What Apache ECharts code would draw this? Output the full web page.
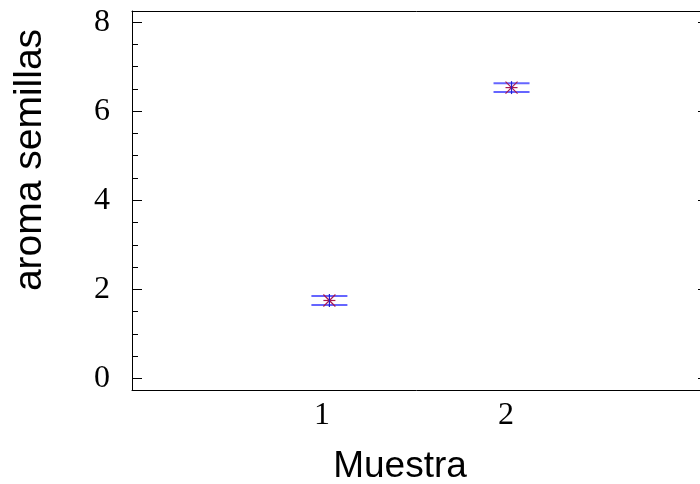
<!DOCTYPE html>
<html>
<head>
<meta charset="utf-8">
<script src="https://cdn.jsdelivr.net/npm/echarts@6/dist/echarts.min.js"></script>
<style>
  html, body { margin: 0; padding: 0; background: #fff; }
  #chart { width: 700px; height: 484px; }
</style>
</head>
<body>
<div id="chart"></div>
<script>
// Sample positions on the x axis and the mean with its interval bounds
const samplePos = [1.04, 2.03];
const means = [1.75, 6.53];
const lower = [1.65, 6.43];
const upper = [1.85, 6.63];

// Tick labels
const xTicks = [1, 2];
const yMajor = [0, 2, 4, 6, 8];
const yMinor = [0.5, 1, 1.5, 2.5, 3, 3.5, 4.5, 5, 5.5, 6.5, 7, 7.5];

const xTitle = 'Muestra';
const yTitle = 'aroma semillas';

const Y_MIN = -0.26, Y_MAX = 8.25;
const X_MIN = -0.033, X_MAX = 3.098;

const chart = echarts.init(document.getElementById('chart'), null, { renderer: 'canvas' });

const serif = 'Liberation Serif, Times New Roman, serif';
const sans = 'Liberation Sans, Arial, sans-serif';

const seriesData = samplePos.map((x, i) => [x, means[i], lower[i], upper[i]]);

function renderMark(params, api) {
  const x = api.value(0);
  const c = api.coord([x, api.value(1)]);
  const lo = api.coord([x, api.value(2)]);
  const hi = api.coord([x, api.value(3)]);
  const half = 18;
  const r = 6;
  const blue = { stroke: '#4a4aff', lineWidth: 2, opacity: 0.85 };
  const red = { stroke: '#a81850', lineWidth: 1.2 };
  return {
    type: 'group',
    children: [
      { type: 'line', shape: { x1: c[0] - half, y1: lo[1], x2: c[0] + half, y2: lo[1] }, style: blue },
      { type: 'line', shape: { x1: c[0] - half, y1: hi[1], x2: c[0] + half, y2: hi[1] }, style: blue },
      { type: 'line', shape: { x1: c[0] - r, y1: c[1] - r, x2: c[0] + r, y2: c[1] + r }, style: red },
      { type: 'line', shape: { x1: c[0] - r, y1: c[1] + r, x2: c[0] + r, y2: c[1] - r }, style: red },
      { type: 'line', shape: { x1: c[0] - r, y1: c[1], x2: c[0] + r, y2: c[1] }, style: red },
      { type: 'line', shape: { x1: c[0], y1: hi[1] - 2, x2: c[0], y2: lo[1] + 2 }, style: { stroke: '#2020d0', lineWidth: 1.2 } }
    ]
  };
}

const axisLine = { show: true, onZero: false, lineStyle: { color: '#000', width: 1 } };

chart.setOption({
  animation: false,
  backgroundColor: '#fff',
  grid: { left: 132, top: 11, width: 576, bottom: 94, containLabel: false, outerBoundsMode: 'none' },
  xAxis: [
    {
      type: 'value', position: 'bottom', min: X_MIN, max: X_MAX,
      axisLine: axisLine, axisTick: { show: false }, splitLine: { show: false },
      axisLabel: {
        customValues: xTicks, margin: 10,
        fontFamily: serif, fontSize: 32, color: '#000',
        formatter: v => String(v)
      }
    },
    {
      type: 'value', position: 'top', min: X_MIN, max: X_MAX,
      axisLine: axisLine, axisTick: { show: false }, splitLine: { show: false },
      axisLabel: { show: false }
    }
  ],
  yAxis: [
    {
      type: 'value', position: 'left', min: Y_MIN, max: Y_MAX,
      axisLine: axisLine, splitLine: { show: false },
      axisTick: { show: true, inside: true, length: 10, customValues: yMajor, lineStyle: { color: '#000' } },
      axisLabel: {
        customValues: yMajor, margin: 22,
        fontFamily: serif, fontSize: 32, color: '#000',
        formatter: v => String(v)
      }
    },
    {
      type: 'value', position: 'left', min: Y_MIN, max: Y_MAX,
      axisLine: { show: false, onZero: false }, splitLine: { show: false }, axisLabel: { show: false },
      axisTick: { show: true, inside: true, length: 6, customValues: yMinor, lineStyle: { color: '#000' } }
    },
    {
      type: 'value', position: 'right', min: Y_MIN, max: Y_MAX,
      axisLine: axisLine, splitLine: { show: false }, axisLabel: { show: false },
      axisTick: { show: true, inside: true, length: 10, customValues: yMajor, lineStyle: { color: '#000' } }
    }
  ],
  graphic: [
    {
      type: 'text', x: 400, y: 467,
      style: { text: xTitle, font: '37px ' + sans, fill: '#000', align: 'center', verticalAlign: 'middle' }
    },
    {
      type: 'text', x: 30, y: 160, rotation: Math.PI / 2,
      style: { text: yTitle, font: '39px ' + sans, fill: '#000', align: 'center', verticalAlign: 'middle' }
    }
  ],
  series: [
    {
      type: 'custom', xAxisIndex: 0, yAxisIndex: 0,
      renderItem: renderMark,
      data: seriesData,
      clip: false
    }
  ]
});
</script>
</body>
</html>
